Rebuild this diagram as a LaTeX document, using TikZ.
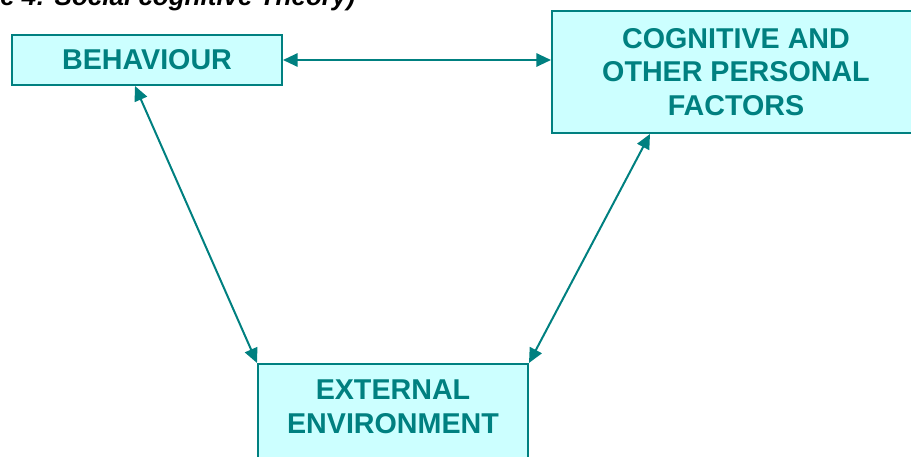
\documentclass[tikz,border=0pt]{standalone}
\usepackage{fontspec}
\setmainfont{Liberation Sans}
\usetikzlibrary{arrows.meta}
\definecolor{boxline}{RGB}{0,128,128}
\definecolor{boxfill}{RGB}{204,255,255}
\begin{document}
\begin{tikzpicture}[x=0.75pt,y=-0.75pt,
    factor/.style={draw=boxline,fill=boxfill,line width=1.5pt,text=boxline,
        font=\fontsize{21.5}{25}\selectfont\bfseries,align=center},
    link/.style={draw=boxline,line width=1.5pt,
        {Triangle[length=11pt,width=10pt]}-{Triangle[length=11pt,width=10pt]}}]
        \useasboundingbox (0,0) rectangle (911,457);
        %% title, cut at the top
        \node[anchor=base west,inner sep=0pt,font=\fontsize{19.5}{22}\selectfont\bfseries\itshape]
            (title) at (0,5) {e 4: Social cognitive Theory)};
        %% the three factors
        \node[factor,minimum width=202.5pt,minimum height=37.5pt] (beh) at (147,60) {BEHAVIOUR};
        \node[factor,minimum width=276pt,minimum height=91.5pt] (cog) at (736,72)
            {COGNITIVE AND\\OTHER PERSONAL\\FACTORS};
        \node[factor,anchor=north,minimum width=202.5pt,inner ysep=12pt,text depth=30pt] (ext) at (393,363)
            {EXTERNAL\\ENVIRONMENT};
        %% links
        \draw[link] (beh.east) -- (beh.east -| cog.west);
        \draw[link] ([xshift=-9pt]beh.south) -- (ext.north west);
        \draw[link] ([xshift=-64.5pt]cog.south) -- (ext.north east);
    \end{tikzpicture}
\end{document}
